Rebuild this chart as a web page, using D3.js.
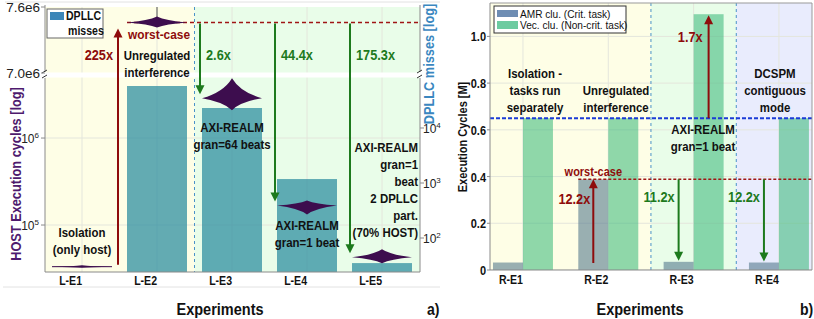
<!DOCTYPE html>
<html>
<head>
<meta charset="utf-8">
<script src="https://cdn.jsdelivr.net/npm/d3@7/dist/d3.min.js"></script>
<style>
  body { margin: 0; background: #fff; }
  text { font-family: "Liberation Sans", Arial, Helvetica, sans-serif; }
</style>
</head>
<body>
<div id="chart"></div>
<script>
// ---- left panel data (a) ----
const leftCats = ["L-E1", "L-E2", "L-E3", "L-E4", "L-E5"];
const hostCycles = [33200, 7460000, 2870000, 168000, 42600];   // violin centres
const dpllcMisses = [0, 58000, 23100, 1180, 35];               // bars
const leftRatios = ["225x", "2.6x", "44.4x", "175.3x"];
const hostTicksUpper = [7.0e6, 7.6e6];
const hostTicksLower = [1e5, 1e6];
const missTicks = [1e2, 1e3, 1e4];

// ---- right panel data (b) ----
const rightCats = ["R-E1", "R-E2", "R-E3", "R-E4"];
const amrCycles = [0.032, 0.388, 0.035, 0.032];
const vecCycles = [0.65, 0.65, 1.095, 0.65];
const rightTicks = [0, 0.2, 0.4, 0.6, 0.8, 1.0];
const rightRatios = ["12.2x", "1.7x", "11.2x", "12.2x"];
const worstCaseR = 0.388;
const isolationVec = 0.65;

const RED = "#8e0c0c", GREEN = "#1d7a1d", PURPLE = "#3d0d4e";
const SX = 0.88;   // condensed look of the original font

const svg = d3.select("#chart").append("svg")
  .attr("width", 814)
  .attr("height", 319);

// condensed text helper
function label(g, x, y, s, o = {}) {
  const rot = o.rot ? " rotate(-90)" : "";
  return g.append("text")
    .attr("transform", `translate(${x},${y})${rot} scale(${SX},1)`)
    .attr("text-anchor", o.anchor || "start")
    .attr("font-weight", o.weight || "bold")
    .attr("font-size", o.size || 13)
    .attr("fill", o.fill || "#111")
    .text(s);
}

// arrow helper: vertical line with a filled head at y2
function arrow(g, x, y1, y2, color) {
  const dir = y2 < y1 ? -1 : 1;
  g.append("line").attr("x1", x).attr("x2", x).attr("y1", y1).attr("y2", y2 - dir * 8)
    .attr("stroke", color).attr("stroke-width", 2);
  g.append("path")
    .attr("d", `M${x - 4.5},${y2 - dir * 9} L${x + 4.5},${y2 - dir * 9} L${x},${y2} Z`)
    .attr("fill", color);
}

// violin-like marker (thin distribution)
function violin(cx, cy, hw, up, down) {
  const k = 0.28, m = 0.3;
  return `M${cx - hw},${cy} Q${cx - hw * k},${cy - up * m} ${cx},${cy - up}` +
    ` Q${cx + hw * k},${cy - up * m} ${cx + hw},${cy}` +
    ` Q${cx + hw * k},${cy + down * m} ${cx},${cy + down}` +
    ` Q${cx - hw * k},${cy + down * m} ${cx - hw},${cy} Z`;
}

// ================= LEFT PANEL =================
const L = svg.append("g");
const pTop = 7, pBottom = 272, pLeft = 45, pRight = 420;

const xL = d3.scaleBand().domain(leftCats).range([44.5, 419.5]).paddingInner(0.2).paddingOuter(0.1);
const yUp = d3.scaleLinear().domain([7.0e6, 7.6e6]).range([73, pTop]);
const yLow = d3.scaleLog().domain([28840, 4.9e6]).range([pBottom, 78]);
const yHost = v => v >= 7e6 ? yUp(v) : yLow(v);
const yMiss = d3.scaleLog().domain([24.1, 81100]).range([pBottom, 78]);
const bw = xL.bandwidth();
const sepL = (xL("L-E2") + bw + xL("L-E3")) / 2;

// subfigure frame lines
L.append("line").attr("x1", 5).attr("x2", 440).attr("y1", 2).attr("y2", 2).attr("stroke", "#e2e2e2");
L.append("line").attr("x1", 3).attr("x2", 440).attr("y1", 287).attr("y2", 287).attr("stroke", "#e2e2e2");

// background regions
L.append("rect").attr("x", pLeft).attr("y", pTop).attr("width", sepL - pLeft).attr("height", pBottom - pTop).attr("fill", "#fefee6");
L.append("rect").attr("x", sepL).attr("y", pTop).attr("width", pRight - sepL).attr("height", pBottom - pTop).attr("fill", "#e9fde9");

// grid
L.selectAll(".vg").data(leftCats).enter().append("line")
  .attr("x1", d => xL(d) + bw / 2).attr("x2", d => xL(d) + bw / 2)
  .attr("y1", pTop).attr("y2", pBottom).attr("stroke", "#e4e6dc");
L.selectAll(".hg").data(hostTicksLower).enter().append("line")
  .attr("x1", pLeft).attr("x2", pRight).attr("y1", d => yLow(d)).attr("y2", d => yLow(d))
  .attr("stroke", "#e4e6dc");

// separator
L.append("line").attr("x1", sepL).attr("x2", sepL).attr("y1", pTop).attr("y2", pBottom)
  .attr("stroke", "#4a92c8").attr("stroke-dasharray", "3,3");

// DPLLC miss bars
L.selectAll(".bar").data(leftCats.filter((c, i) => dpllcMisses[i] > 0)).enter().append("rect")
  .attr("x", d => xL(d))
  .attr("y", d => yMiss(dpllcMisses[leftCats.indexOf(d)]))
  .attr("width", bw)
  .attr("height", d => pBottom - yMiss(dpllcMisses[leftCats.indexOf(d)]))
  .attr("fill", "#2f8fa0").attr("opacity", 0.75);

// break band
L.append("rect").attr("x", pLeft).attr("y", 72.5).attr("width", pRight - pLeft).attr("height", 5).attr("fill", "#fff");

// worst-case dashed line
const wcY = yHost(hostCycles[1]);
L.append("line").attr("x1", xL("L-E2")).attr("x2", pRight).attr("y1", wcY).attr("y2", wcY)
  .attr("stroke", "#a01515").attr("stroke-width", 1.5).attr("stroke-dasharray", "4,3");

// violins (shape sizes are style only)
const violinShape = [[30, 1.5, 1], [30, 6, 5], [30, 20, 12], [30, 5, 9], [30, 8, 6]];
L.append("line").attr("x1", xL("L-E2") + bw / 2).attr("x2", xL("L-E2") + bw / 2)
  .attr("y1", pTop).attr("y2", wcY).attr("stroke", "#555").attr("stroke-width", 1);
L.selectAll(".vio").data(leftCats).enter().append("path")
  .attr("d", (d, i) => violin(xL(d) + bw / 2, yHost(hostCycles[i]), ...violinShape[i]))
  .attr("fill", PURPLE);
L.append("line").attr("x1", xL("L-E1")).attr("x2", xL("L-E1") + bw)
  .attr("y1", yHost(hostCycles[0])).attr("y2", yHost(hostCycles[0])).attr("stroke", PURPLE).attr("stroke-width", 1);

// arrows
arrow(L, xL("L-E2") - 9, yHost(hostCycles[0]) - 2, wcY + 6, RED);
leftCats.slice(2).forEach((c, i) => {
  arrow(L, xL(c) - 2, wcY + 1, yHost(hostCycles[i + 2]) - 4, GREEN);
  label(L, xL(c) + 4, 60, leftRatios[i + 1], { fill: GREEN, size: 14.5 });
});
label(L, xL("L-E2") - 14, 60, leftRatios[0], { fill: RED, size: 14.5, anchor: "end" });
label(L, xL("L-E2") + 1, 39, "worst-case", { fill: RED, size: 13.5 });

// annotation texts
function lines(g, x, y0, arr, anchor) {
  arr.forEach((t, i) => label(g, x, y0 + i * 17, t, { anchor: anchor, size: 13 }));
}
lines(L, xL("L-E2") + bw / 2, 60, ["Unregulated", "interference"], "middle");
lines(L, xL("L-E1") + bw / 2, 237, ["Isolation", "(only host)"], "middle");
lines(L, xL("L-E3") + bw / 2, 132, ["AXI-REALM", "gran=64 beats"], "middle");
lines(L, xL("L-E4") + bw / 2, 230, ["AXI-REALM", "gran=1 beat"], "middle");
lines(L, pRight - 2, 152, ["AXI-REALM", "gran=1", "beat", "2 DPLLC", "part.", "(70% HOST)"], "end");

// axes lines
const axisCol = "#8a8a8a";
L.append("line").attr("x1", pLeft).attr("x2", pLeft).attr("y1", pTop - 2).attr("y2", 72).attr("stroke", axisCol);
L.append("line").attr("x1", pLeft).attr("x2", pLeft).attr("y1", 78).attr("y2", pBottom).attr("stroke", axisCol);
L.append("line").attr("x1", pRight).attr("x2", pRight).attr("y1", pTop - 2).attr("y2", 72).attr("stroke", axisCol);
L.append("line").attr("x1", pRight).attr("x2", pRight).attr("y1", 78).attr("y2", pBottom).attr("stroke", axisCol);
L.append("line").attr("x1", pLeft).attr("x2", pRight).attr("y1", pBottom).attr("y2", pBottom).attr("stroke", axisCol);
[pLeft, pRight].forEach(x => {
  L.append("path").attr("d", `M${x - 3},${73} L${x + 2},${70} M${x - 3},${78} L${x + 2},${75}`)
    .attr("stroke", "#333").attr("fill", "none");
});

// left ticks
hostTicksUpper.forEach(v => {
  L.append("line").attr("x1", pLeft - 4).attr("x2", pLeft).attr("y1", yUp(v)).attr("y2", yUp(v)).attr("stroke", axisCol);
  L.append("text").attr("x", pLeft - 5).attr("y", yUp(v) + 5)
    .attr("text-anchor", "end").attr("font-size", 13.5).attr("fill", "#222").text(d3.format(".1e")(v).replace("+", ""));
});
hostTicksLower.forEach(v => {
  L.append("line").attr("x1", pLeft - 4).attr("x2", pLeft).attr("y1", yLow(v)).attr("y2", yLow(v)).attr("stroke", axisCol);
  const t = L.append("text").attr("x", pLeft - 6).attr("y", yLow(v) + 5)
    .attr("text-anchor", "end").attr("font-size", 12).attr("fill", "#222");
  t.append("tspan").text("10");
  t.append("tspan").attr("dy", -5).attr("font-size", 8).text(Math.round(Math.log10(v)));
});
missTicks.forEach(v => {
  L.append("line").attr("x1", pRight).attr("x2", pRight + 4).attr("y1", yMiss(v)).attr("y2", yMiss(v)).attr("stroke", axisCol);
  const t = L.append("text").attr("x", pRight + 3).attr("y", yMiss(v) + 5)
    .attr("font-size", 12).attr("fill", "#222");
  t.append("tspan").text("10");
  t.append("tspan").attr("dy", -5).attr("font-size", 8).text(Math.round(Math.log10(v)));
});

// x labels
leftCats.forEach(c => label(L, xL(c) + bw / 2, 285, c, { anchor: "end", size: 12 }));

// axis titles
label(L, 21, 174, "HOST Execution cycles [log]", { rot: true, anchor: "middle", size: 14.5, fill: "#4e1a6e" });
label(L, 434, 64, "DPLLC misses [log]", { rot: true, anchor: "middle", size: 14.5, fill: "#3a87c0" });
label(L, 220, 315, "Experiments", { anchor: "middle", size: 16.5 });
label(L, 427, 315, "a)", { size: 16 });

// legend
L.append("rect").attr("x", 47).attr("y", 9).attr("width", 56).attr("height", 29).attr("fill", "#fff").attr("stroke", "#666");
L.append("rect").attr("x", 50).attr("y", 12).attr("width", 14).attr("height", 8).attr("fill", "#3b86b8");
label(L, 66, 20, "DPLLC", { size: 12 });
label(L, 68, 35, "misses", { size: 12 });

// ================= RIGHT PANEL =================
const R = svg.append("g");
const rl = 490, rr = 812, rt = 3, rb = 270;

const xR = d3.scaleBand().domain(rightCats).range([480.3, 821.6]).paddingInner(0.297).paddingOuter(0.1485);
const xSub = d3.scaleBand().domain(["amr", "vec"]).range([0, xR.bandwidth()]);
const yR = d3.scaleLinear().domain([0, 1.143]).range([rb, rt]);
const sw = xSub.bandwidth();
const sep1 = (xR("R-E2") + xR.bandwidth() + xR("R-E3")) / 2;
const sep2 = (xR("R-E3") + xR.bandwidth() + xR("R-E4")) / 2;

R.append("defs").append("clipPath").attr("id", "clipR").append("rect")
  .attr("x", rl).attr("y", rt).attr("width", rr - rl).attr("height", rb - rt);
const P = R.append("g").attr("clip-path", "url(#clipR)");

P.append("rect").attr("x", rl).attr("y", rt).attr("width", sep1 - rl).attr("height", rb - rt).attr("fill", "#fefee6");
P.append("rect").attr("x", sep1).attr("y", rt).attr("width", sep2 - sep1).attr("height", rb - rt).attr("fill", "#e9fde9");
P.append("rect").attr("x", sep2).attr("y", rt).attr("width", rr - sep2).attr("height", rb - rt).attr("fill", "#e9ecfd");

// grid
P.selectAll(".hg").data(rightTicks).enter().append("line")
  .attr("x1", rl).attr("x2", rr).attr("y1", d => yR(d)).attr("y2", d => yR(d)).attr("stroke", "#e4e6dc");
P.selectAll(".vg").data(rightCats).enter().append("line")
  .attr("x1", d => xR(d) + sw).attr("x2", d => xR(d) + sw).attr("y1", rt).attr("y2", rb).attr("stroke", "#e4e6dc");

// bars
P.selectAll(".amr").data(rightCats).enter().append("rect")
  .attr("x", d => xR(d) + xSub("amr")).attr("width", sw)
  .attr("y", (d, i) => yR(amrCycles[i])).attr("height", (d, i) => rb - yR(amrCycles[i]))
  .attr("fill", "#557a8e").attr("opacity", 0.6);
P.selectAll(".vec").data(rightCats).enter().append("rect")
  .attr("x", d => xR(d) + xSub("vec")).attr("width", sw)
  .attr("y", (d, i) => yR(vecCycles[i])).attr("height", (d, i) => rb - yR(vecCycles[i]))
  .attr("fill", "#44bc80").attr("opacity", 0.6);

// separators and reference lines
[sep1, sep2].forEach(x => P.append("line").attr("x1", x).attr("x2", x).attr("y1", rt).attr("y2", rb)
  .attr("stroke", "#4a92c8").attr("stroke-dasharray", "3,3"));
P.append("line").attr("x1", rl).attr("x2", rr).attr("y1", yR(isolationVec)).attr("y2", yR(isolationVec))
  .attr("stroke", "#1b3bd6").attr("stroke-width", 2).attr("stroke-dasharray", "4,2");
P.append("line").attr("x1", xR("R-E2")).attr("x2", rr).attr("y1", yR(worstCaseR)).attr("y2", yR(worstCaseR))
  .attr("stroke", "#a01515").attr("stroke-width", 1.5).attr("stroke-dasharray", "3,2");

// arrows + ratios
const amrX = c => xR(c) + xSub("amr") + sw / 2;
const vecX = c => xR(c) + xSub("vec") + sw / 2;
arrow(P, amrX("R-E2"), yR(0) - 7, yR(worstCaseR), RED);
arrow(P, vecX("R-E3"), yR(isolationVec), yR(vecCycles[2]) + 1, RED);
arrow(P, amrX("R-E3"), yR(worstCaseR), yR(amrCycles[2]) - 1, GREEN);
arrow(P, amrX("R-E4"), yR(worstCaseR), yR(amrCycles[3]) - 1, GREEN);
const ratioPos = [[amrX("R-E2") - 3, 204, RED], [vecX("R-E3") - 6, 42, RED], [amrX("R-E3") - 4, 202, GREEN], [amrX("R-E4") - 4, 202, GREEN]];
rightRatios.forEach((t, i) => label(R, ratioPos[i][0], ratioPos[i][1], t,
  { anchor: "end", size: 14.5, fill: ratioPos[i][2] }));
label(R, amrX("R-E2"), 176, "worst-case", { anchor: "middle", size: 12.5, fill: RED });

lines(R, 535, 78, ["Isolation -", "tasks run", "separately"], "middle");
lines(R, 616, 95, ["Unregulated", "interference"], "middle");
lines(R, 703, 134, ["AXI-REALM", "gran=1 beat"], "middle");
lines(R, 775, 78, ["DCSPM", "contiguous", "mode"], "middle");

// frame + axes
R.append("line").attr("x1", rl).attr("x2", rr).attr("y1", rt).attr("y2", rt).attr("stroke", "#999");
R.append("line").attr("x1", rr).attr("x2", rr).attr("y1", rt).attr("y2", rb).attr("stroke", "#999");
R.append("line").attr("x1", rl).attr("x2", rl).attr("y1", rt).attr("y2", rb).attr("stroke", axisCol);
R.append("line").attr("x1", rl).attr("x2", rr).attr("y1", rb).attr("y2", rb).attr("stroke", axisCol);
rightTicks.forEach(v => {
  R.append("line").attr("x1", rl - 3).attr("x2", rl).attr("y1", yR(v)).attr("y2", yR(v)).attr("stroke", axisCol);
  label(R, rl - 4, yR(v) + 5, v === 0 ? "0" : d3.format(".1f")(v), { anchor: "end", size: 12.5 });
});
rightCats.forEach(c => label(R, xR(c) + sw, 284, c, { anchor: "end", size: 12 }));

label(R, 467, 137, "Execution Cycles [M]", { rot: true, anchor: "middle", size: 12.5 });
label(R, 640, 315, "Experiments", { anchor: "middle", size: 16.5 });
label(R, 800, 315, "b)", { size: 16 });

// legend
R.append("rect").attr("x", 494).attr("y", 6).attr("width", 132).attr("height", 27).attr("fill", "#fff").attr("stroke", "#333");
R.append("rect").attr("x", 497).attr("y", 10).attr("width", 21).attr("height", 7).attr("fill", "#6e8db3");
R.append("rect").attr("x", 497).attr("y", 21).attr("width", 21).attr("height", 8).attr("fill", "#6dcba0");
label(R, 520, 17.5, "AMR clu. (Crit. task)", { size: 11.5, weight: "normal" });
label(R, 520, 29, "Vec. clu. (Non-crit. task)", { size: 11.5, weight: "normal" });
</script>
</body>
</html>
